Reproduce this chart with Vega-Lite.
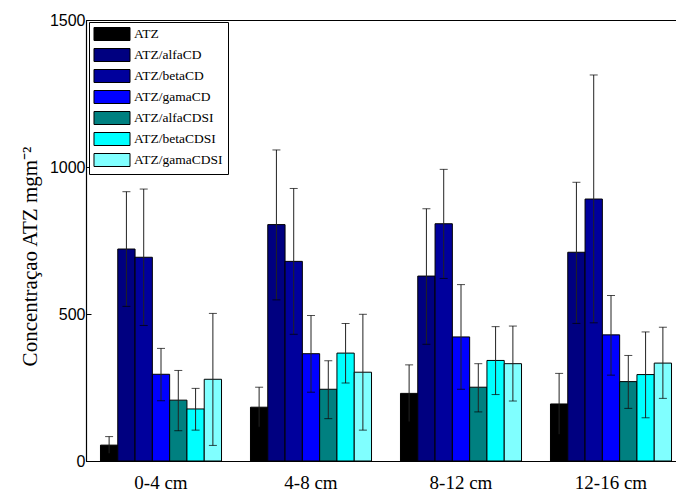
{
  "$schema": "https://vega.github.io/schema/vega-lite/v6.json",
  "autosize": {"type": "none"},
  "padding": {"left": 86, "top": 20, "right": -10, "bottom": 35},
  "width": 600,
  "height": 441,
  "background": "white",
  "config": {
    "view": {"stroke": "black", "strokeWidth": 1},
    "axis": {"grid": false, "domainColor": "black", "domainWidth": 1.2, "tickColor": "black", "labelColor": "black", "titleColor": "black"}
  },
  "data": {
    "values": [
      {"depth": "0-4 cm", "series": "ATZ", "value": 54, "lo": 25, "hi": 83},
      {"depth": "0-4 cm", "series": "ATZ/alfaCD", "value": 721, "lo": 526, "hi": 916},
      {"depth": "0-4 cm", "series": "ATZ/betaCD", "value": 693, "lo": 461, "hi": 925},
      {"depth": "0-4 cm", "series": "ATZ/gamaCD", "value": 295, "lo": 205, "hi": 383},
      {"depth": "0-4 cm", "series": "ATZ/alfaCDSI", "value": 207, "lo": 103, "hi": 308},
      {"depth": "0-4 cm", "series": "ATZ/betaCDSI", "value": 177, "lo": 105, "hi": 247},
      {"depth": "0-4 cm", "series": "ATZ/gamaCDSI", "value": 278, "lo": 53, "hi": 502},
      {"depth": "4-8 cm", "series": "ATZ", "value": 183, "lo": 115, "hi": 251},
      {"depth": "4-8 cm", "series": "ATZ/alfaCD", "value": 804, "lo": 548, "hi": 1058},
      {"depth": "4-8 cm", "series": "ATZ/betaCD", "value": 679, "lo": 431, "hi": 927},
      {"depth": "4-8 cm", "series": "ATZ/gamaCD", "value": 365, "lo": 234, "hi": 495},
      {"depth": "4-8 cm", "series": "ATZ/alfaCDSI", "value": 244, "lo": 144, "hi": 341},
      {"depth": "4-8 cm", "series": "ATZ/betaCDSI", "value": 367, "lo": 265, "hi": 468},
      {"depth": "4-8 cm", "series": "ATZ/gamaCDSI", "value": 302, "lo": 105, "hi": 499},
      {"depth": "8-12 cm", "series": "ATZ", "value": 230, "lo": 133, "hi": 327},
      {"depth": "8-12 cm", "series": "ATZ/alfaCD", "value": 629, "lo": 397, "hi": 858},
      {"depth": "8-12 cm", "series": "ATZ/betaCD", "value": 807, "lo": 621, "hi": 992},
      {"depth": "8-12 cm", "series": "ATZ/gamaCD", "value": 422, "lo": 244, "hi": 600},
      {"depth": "8-12 cm", "series": "ATZ/alfaCDSI", "value": 251, "lo": 167, "hi": 331},
      {"depth": "8-12 cm", "series": "ATZ/betaCDSI", "value": 342, "lo": 226, "hi": 457},
      {"depth": "8-12 cm", "series": "ATZ/gamaCDSI", "value": 331, "lo": 204, "hi": 459},
      {"depth": "12-16 cm", "series": "ATZ", "value": 194, "lo": 90, "hi": 298},
      {"depth": "12-16 cm", "series": "ATZ/alfaCD", "value": 710, "lo": 468, "hi": 948},
      {"depth": "12-16 cm", "series": "ATZ/betaCD", "value": 891, "lo": 470, "hi": 1313},
      {"depth": "12-16 cm", "series": "ATZ/gamaCD", "value": 429, "lo": 292, "hi": 563},
      {"depth": "12-16 cm", "series": "ATZ/alfaCDSI", "value": 270, "lo": 179, "hi": 359},
      {"depth": "12-16 cm", "series": "ATZ/betaCDSI", "value": 294, "lo": 147, "hi": 439},
      {"depth": "12-16 cm", "series": "ATZ/gamaCDSI", "value": 333, "lo": 213, "hi": 455}
    ]
  },
  "encoding": {
    "x": {
      "field": "depth", "type": "nominal",
      "sort": ["0-4 cm", "4-8 cm", "8-12 cm", "12-16 cm"],
      "scale": {"paddingInner": 0.193, "paddingOuter": 0.0965},
      "axis": {"title": null, "labelAngle": 0, "labelFont": "Liberation Serif", "labelFontSize": 19, "tickSize": -5, "labelPadding": 17}
    },
    "xOffset": {
      "field": "series", "type": "nominal",
      "sort": ["ATZ", "ATZ/alfaCD", "ATZ/betaCD", "ATZ/gamaCD", "ATZ/alfaCDSI", "ATZ/betaCDSI", "ATZ/gamaCDSI"],
      "scale": {"paddingInner": 0, "paddingOuter": 0}
    }
  },
  "layer": [
    {
      "mark": {"type": "bar", "stroke": "black", "strokeWidth": 1, "opacity": 1},
      "encoding": {
        "y": {
          "field": "value", "type": "quantitative",
          "scale": {"domain": [0, 1500], "nice": false},
          "axis": {"title": "Concentraçao ATZ mgm⁻²", "titleFont": "Liberation Serif", "titleFontSize": 21, "titleFontWeight": "normal", "titlePadding": 9, "titleY": 236, "values": [0, 500, 1000, 1500], "format": "d", "labelFont": "Liberation Sans", "labelFontSize": 16, "tickSize": -5, "labelPadding": 6}
        },
        "color": {
          "field": "series", "type": "nominal",
          "scale": {
            "domain": ["ATZ", "ATZ/alfaCD", "ATZ/betaCD", "ATZ/gamaCD", "ATZ/alfaCDSI", "ATZ/betaCDSI", "ATZ/gamaCDSI"],
            "range": ["#000000", "#000080", "#00009c", "#0000ff", "#008080", "#00ffff", "#80ffff"]
          },
          "legend": {
            "orient": "none", "legendX": 3, "legendY": 2, "title": null,
            "strokeColor": "black", "fillColor": "white", "padding": 5,
            "symbolType": "M-2.77,-1H2.77V1H-2.77Z", "symbolSize": 169,
            "symbolStrokeColor": "black", "symbolStrokeWidth": 1, "symbolOpacity": 1,
            "symbolOffset": 11, "labelOffset": 15,
            "labelFont": "Liberation Serif", "labelFontSize": 13.5, "labelColor": "black",
            "rowPadding": 3
          }
        }
      }
    },
    {
      "mark": {"type": "rule", "color": "#222222", "strokeWidth": 1},
      "encoding": {
        "y": {"field": "lo", "type": "quantitative"},
        "y2": {"field": "hi"}
      }
    },
    {
      "mark": {"type": "tick", "color": "black", "size": 8, "thickness": 1, "orient": "horizontal"},
      "encoding": {"y": {"field": "lo", "type": "quantitative"}}
    },
    {
      "mark": {"type": "tick", "color": "black", "size": 8, "thickness": 1, "orient": "horizontal"},
      "encoding": {"y": {"field": "hi", "type": "quantitative"}}
    }
  ]
}
